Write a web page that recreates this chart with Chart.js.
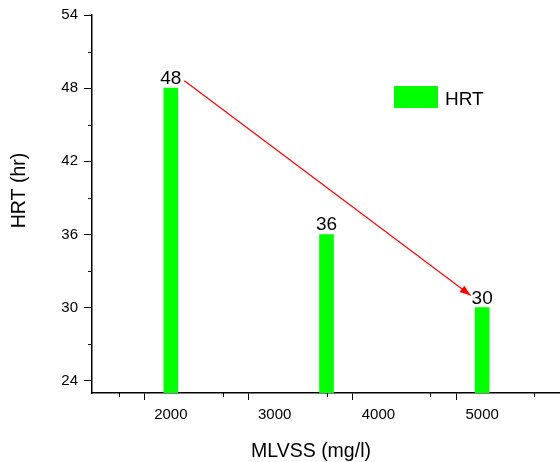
<!DOCTYPE html>
<html>
<head>
<meta charset="utf-8">
<script src="https://cdn.jsdelivr.net/npm/chart.js@4.4.0/dist/chart.umd.min.js"></script>
<style>
  html, body { margin: 0; padding: 0; background: #fff; }
  canvas { display: block; }
</style>
</head>
<body>
<canvas id="ch" width="560" height="462"></canvas>
<script>
// data
const mlvss = [2000, 3500, 5000];
const hrt = [48, 36, 30];
// red trend arrow, from near the first bar label to the last one
const arrowX = [2130, 4890];
const arrowY = [48.6, 31.0];
// axis ticks (minor ones carry no label)
const xTicks = [1500, 2000, 2500, 3000, 3500, 4000, 4500, 5000, 5500];
const xLabels = [2000, 3000, 4000, 5000];
const yTicks = [24, 27, 30, 33, 36, 39, 42, 45, 48, 51, 54];
const yLabels = [24, 30, 36, 42, 48, 54];

const FONT = "'Liberation Sans', Arial, sans-serif";
const GREEN = "#00ff00";

const barLabels = {
  id: "barLabels",
  afterDatasetsDraw(chart) {
    const c = chart.ctx, meta = chart.getDatasetMeta(0);
    c.save();
    c.font = "19px " + FONT; c.fillStyle = "#000";
    c.textAlign = "center"; c.textBaseline = "alphabetic";
    meta.data.forEach((el, i) => c.fillText(String(hrt[i]), el.x, el.y - 4));
    c.restore();
  }
};

const arrowHead = {
  id: "arrowHead",
  afterDatasetsDraw(chart) {
    const pts = chart.getDatasetMeta(1).data;
    if (pts.length < 2) return;
    const a = pts[0], b = pts[pts.length - 1];
    const ang = Math.atan2(b.y - a.y, b.x - a.x), L = 11, W = 4;
    const c = chart.ctx;
    c.save();
    c.fillStyle = "#ff0000";
    c.beginPath();
    c.moveTo(b.x, b.y);
    c.lineTo(b.x - L * Math.cos(ang) + W * Math.sin(ang), b.y - L * Math.sin(ang) - W * Math.cos(ang));
    c.lineTo(b.x - L * Math.cos(ang) - W * Math.sin(ang), b.y - L * Math.sin(ang) + W * Math.cos(ang));
    c.closePath(); c.fill();
    c.restore();
  }
};

// short minor ticks (the grid only draws the labelled ones)
const minorTicks = {
  id: "minorTicks",
  afterDraw(chart) {
    const c = chart.ctx, xs = chart.scales.x, ys = chart.scales.y;
    c.save();
    c.strokeStyle = "#000"; c.lineWidth = 1;
    c.beginPath();
    xTicks.filter(v => !xLabels.includes(v)).forEach(v => {
      const px = Math.round(xs.getPixelForValue(v)) + 0.5;
      c.moveTo(px, xs.top); c.lineTo(px, xs.top + 4);
    });
    yTicks.filter(v => !yLabels.includes(v)).forEach(v => {
      const py = Math.round(ys.getPixelForValue(v)) + 0.5;
      c.moveTo(ys.right, py); c.lineTo(ys.right - 4, py);
    });
    c.stroke();
    c.restore();
  }
};

// legend box + axis titles, placed like in the Origin figure
const decor = {
  id: "decor",
  afterDraw(chart) {
    const c = chart.ctx;
    c.save();
    c.fillStyle = GREEN;
    c.fillRect(394, 86, 44, 22);
    c.fillStyle = "#000";
    c.textBaseline = "alphabetic";
    c.font = "19px " + FONT; c.textAlign = "left";
    c.fillText("HRT", 445, 105);
    c.font = "19.5px " + FONT; c.textAlign = "center";
    c.fillText("MLVSS (mg/l)", 311, 457);
    c.translate(25, 190.5); c.rotate(-Math.PI / 2);
    c.fillText("HRT (hr)", 0, 0);
    c.restore();
  }
};

new Chart(document.getElementById("ch"), {
  type: "bar",
  data: {
    datasets: [
      { label: "HRT", data: mlvss.map((x, i) => ({ x, y: hrt[i] })), backgroundColor: GREEN, barThickness: 14, order: 2 },
      { type: "line", label: "trend", data: arrowX.map((x, i) => ({ x, y: arrowY[i] })), borderColor: "#ff0000", borderWidth: 1.2, pointRadius: 0, fill: false, order: 1 }
    ]
  },
  plugins: [barLabels, arrowHead, minorTicks, decor],
  options: {
    responsive: false, animation: false,
    layout: { padding: { left: 0, right: 0, top: 13, bottom: 0 } },
    plugins: { legend: { display: false }, tooltip: { enabled: false } },
    scales: {
      x: {
        type: "linear", min: 1240, max: 5750, offset: false,
        afterBuildTicks: s => { s.ticks = xTicks.map(v => ({ value: v })); },
        afterFit: s => { s.height = 69; },
        grid: { drawOnChartArea: false, drawTicks: true, tickLength: 7, lineWidth: 1,
          tickColor: ctx => xLabels.includes(ctx.tick && ctx.tick.value) ? "#000" : "rgba(0,0,0,0)" },
        border: { color: "#000", width: 1.5 },
        ticks: { color: "#000", font: { family: FONT, size: 15 }, padding: 6, maxRotation: 0, autoSkip: false,
          callback: v => xLabels.includes(v) ? String(v) : "" }
      },
      y: {
        min: 23, max: 54,
        afterBuildTicks: s => { s.ticks = yTicks.map(v => ({ value: v })); },
        afterFit: s => { s.width = 92; },
        grid: { drawOnChartArea: false, drawTicks: true, tickLength: 8, lineWidth: 1,
          tickColor: ctx => yLabels.includes(ctx.tick && ctx.tick.value) ? "#000" : "rgba(0,0,0,0)" },
        border: { color: "#000", width: 1.5 },
        ticks: { color: "#000", font: { family: FONT, size: 15 }, padding: 6, autoSkip: false,
          callback: v => yLabels.includes(v) ? String(v) : "" }
      }
    }
  }
});
</script>
</body>
</html>
